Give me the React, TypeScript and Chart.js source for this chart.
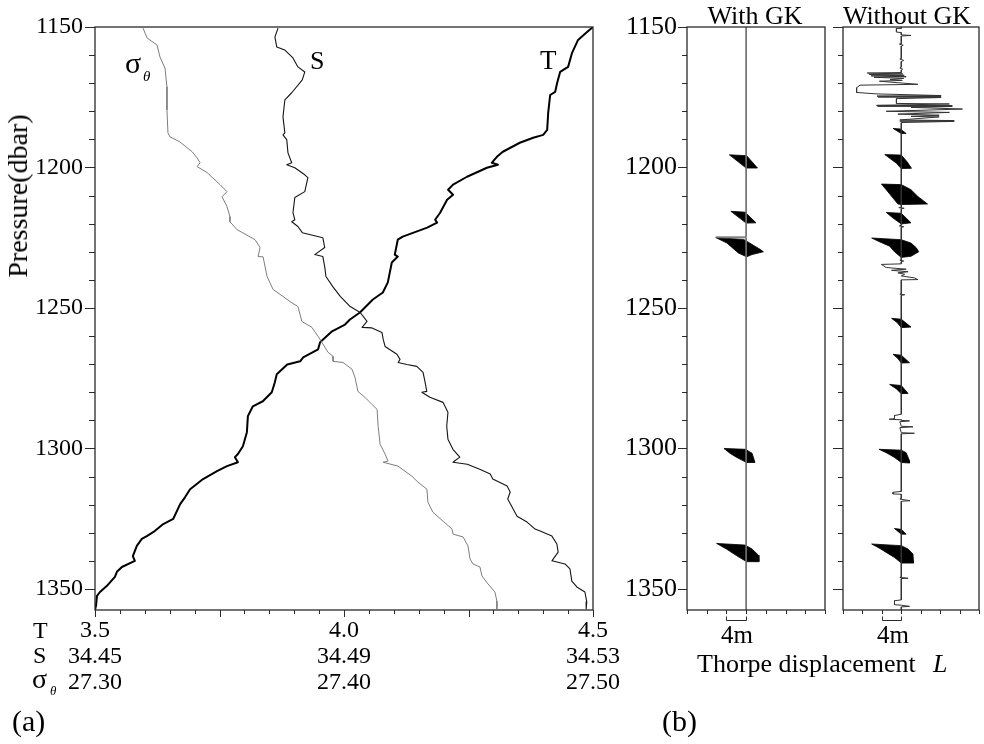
import React, { useEffect, useRef } from 'react';
import { Chart, registerables } from 'chart.js';

Chart.register(...registerables);

const FONT = "'Liberation Serif', 'Times New Roman', Times, serif";

// ---------- Panel (a): profiles, [pressure (dbar), value] ----------
const T_PROFILE: number[][] = [
  [1150.0, 4.500], [1151.8, 4.488], [1154.6, 4.470], [1159.2, 4.458], [1164.2, 4.450], [1166.0, 4.434],
  [1169.9, 4.428], [1173.1, 4.424], [1174.2, 4.414], [1180.6, 4.410], [1186.6, 4.408], [1188.4, 4.400],
  [1189.4, 4.380], [1191.2, 4.353], [1194.4, 4.319], [1196.2, 4.307], [1198.3, 4.297], [1199.0, 4.309],
  [1200.1, 4.287], [1203.3, 4.247], [1206.1, 4.219], [1207.9, 4.209], [1209.7, 4.219], [1211.5, 4.207],
  [1216.1, 4.193], [1218.6, 4.183], [1219.6, 4.187], [1221.4, 4.167], [1224.6, 4.118], [1225.7, 4.108],
  [1231.0, 4.102], [1231.7, 4.108], [1233.8, 4.096], [1240.9, 4.088], [1244.5, 4.078], [1247.0, 4.058],
  [1251.6, 4.032], [1254.1, 4.012], [1255.9, 4.002], [1258.3, 3.976], [1262.2, 3.952], [1264.7, 3.948],
  [1267.6, 3.918], [1269.0, 3.912], [1270.1, 3.886], [1273.6, 3.865], [1276.5, 3.861], [1280.0, 3.855],
  [1283.2, 3.837], [1285.0, 3.817], [1288.5, 3.807], [1294.2, 3.805], [1299.2, 3.797], [1302.0, 3.787],
  [1303.1, 3.781], [1304.9, 3.787], [1306.3, 3.765], [1308.1, 3.745], [1310.9, 3.717], [1314.5, 3.691],
  [1317.3, 3.681], [1319.8, 3.671], [1325.1, 3.657], [1326.9, 3.637], [1329.4, 3.620], [1331.2, 3.604],
  [1332.2, 3.594], [1334.7, 3.584], [1338.3, 3.576], [1340.0, 3.580], [1342.2, 3.554], [1343.9, 3.544],
  [1345.7, 3.540], [1348.9, 3.524], [1351.1, 3.510], [1352.5, 3.504], [1356.0, 3.502], [1357.5, 3.500],
];

const S_PROFILE: number[][] = [
  [1150.4, 34.4794], [1153.6, 34.4789], [1157.1, 34.4792], [1158.2, 34.4805], [1161.0, 34.4818],
  [1164.2, 34.4826], [1166.0, 34.4837], [1168.8, 34.4833], [1173.4, 34.4816], [1175.9, 34.4805],
  [1182.0, 34.4802], [1187.7, 34.4805], [1188.4, 34.4802], [1190.1, 34.4808], [1194.8, 34.4810],
  [1198.3, 34.4816], [1199.0, 34.4808], [1200.1, 34.4821], [1202.6, 34.4837], [1203.6, 34.4842],
  [1208.6, 34.4837], [1210.7, 34.4821], [1216.1, 34.4818], [1218.6, 34.4821], [1219.3, 34.4816],
  [1221.0, 34.4826], [1223.2, 34.4833], [1225.0, 34.4866], [1228.5, 34.4869], [1231.0, 34.4853],
  [1231.7, 34.4866], [1235.3, 34.4869], [1238.8, 34.4871], [1242.4, 34.4882], [1245.9, 34.4894],
  [1249.5, 34.4910], [1251.6, 34.4926], [1254.8, 34.4937], [1256.9, 34.4929], [1257.1, 34.4945],
  [1258.7, 34.4961], [1261.2, 34.4963], [1263.7, 34.4966], [1266.5, 34.4985], [1268.3, 34.4990],
  [1269.4, 34.4987], [1270.1, 34.5001], [1270.8, 34.5017], [1272.9, 34.5027], [1276.1, 34.5030],
  [1279.7, 34.5033], [1280.0, 34.5025], [1281.8, 34.5038], [1283.6, 34.5059], [1287.1, 34.5067],
  [1292.1, 34.5065], [1296.7, 34.5067], [1300.3, 34.5075], [1303.1, 34.5086], [1304.9, 34.5075],
  [1305.6, 34.5098], [1307.4, 34.5118], [1309.1, 34.5135], [1310.9, 34.5139], [1313.4, 34.5162],
  [1315.5, 34.5167], [1318.0, 34.5163], [1324.1, 34.5178], [1326.2, 34.5194], [1328.7, 34.5207],
  [1329.4, 34.5215], [1331.2, 34.5234], [1334.0, 34.5242], [1336.9, 34.5244], [1340.0, 34.5234],
  [1341.1, 34.5255], [1342.9, 34.5263], [1347.2, 34.5266], [1349.3, 34.5274], [1351.1, 34.5287],
  [1354.6, 34.5290], [1357.1, 34.5289],
];

const SIG_PROFILE: number[][] = [
  [1150.4, 27.3193], [1153.9, 27.3209], [1156.4, 27.3249], [1160.7, 27.3261], [1164.6, 27.3281],
  [1171.3, 27.3289], [1179.5, 27.3289], [1187.7, 27.3293], [1189.1, 27.3301], [1190.9, 27.3341],
  [1194.4, 27.3390], [1196.6, 27.3410], [1198.3, 27.3422], [1199.7, 27.3410], [1201.8, 27.3450],
  [1206.1, 27.3502], [1208.6, 27.3530], [1210.4, 27.3510], [1213.9, 27.3530], [1217.5, 27.3542],
  [1219.3, 27.3542], [1222.1, 27.3570], [1225.7, 27.3643], [1228.5, 27.3663], [1231.7, 27.3655],
  [1231.8, 27.3675], [1238.8, 27.3691], [1243.4, 27.3715], [1245.9, 27.3755], [1247.7, 27.3783],
  [1249.5, 27.3815], [1254.8, 27.3831], [1256.9, 27.3871], [1261.2, 27.3904], [1265.8, 27.3936],
  [1267.2, 27.3956], [1269.0, 27.3956], [1269.4, 27.3996], [1271.8, 27.4032], [1274.7, 27.4044],
  [1279.7, 27.4056], [1281.8, 27.4084], [1284.3, 27.4112], [1286.1, 27.4133], [1292.1, 27.4137],
  [1298.5, 27.4145], [1302.0, 27.4165], [1304.5, 27.4177], [1304.9, 27.4157], [1306.3, 27.4217],
  [1309.9, 27.4273], [1312.0, 27.4297], [1314.5, 27.4333], [1319.1, 27.4337], [1322.7, 27.4357],
  [1325.9, 27.4398], [1328.7, 27.4434], [1330.5, 27.4438], [1331.5, 27.4478], [1334.7, 27.4498],
  [1339.3, 27.4506], [1341.1, 27.4518], [1342.2, 27.4546], [1345.4, 27.4554], [1348.2, 27.4578],
  [1351.1, 27.4606], [1354.3, 27.4614], [1357.1, 27.4614],
];

const T_TICK_VALUES = [3.5, 4.0, 4.5];
const T_TICK_LABELS = ['3.5', '4.0', '4.5'];
const S_TICK_LABELS = ['34.45', '34.49', '34.53'];
const SIG_TICK_LABELS = ['27.30', '27.40', '27.50'];
const T_RANGE = [3.5, 4.5];
const S_RANGE = [34.45, 34.53];
const SIG_RANGE = [27.3, 27.5];
const P_TICKS = [1150, 1200, 1250, 1300, 1350];
const P_RANGE = [1150, 1357.5];

// ---------- Panel (b): Thorpe displacement, [L (m), pressure (dbar)] ----------
const L_RANGE = [-12, 16];
const SCALE_BAR = [-4, 0];

const GK_PATH: number[][] = [
  [0, 1150], [0, 1224.7], [-6.1, 1224.7], [-6.1, 1225.0], [0, 1225.0], [0, 1357.5],
];
const GK_OVERTURNS: number[][][] = [
  [[-3.4, 1195.5], [0.1, 1195.8], [2.3, 1200.2], [0, 1200.2]],
  [[-3.1, 1215.6], [-0.2, 1215.9], [2.0, 1219.7], [0, 1219.8]],
  [[-6.1, 1225.0], [-0.5, 1225.6], [2.9, 1229.2], [3.5, 1230.0], [1.2, 1231.0], [0.1, 1231.8], [-1.6, 1230.4], [-3.9, 1226.9]],
  [[-4.5, 1300.0], [-0.2, 1300.3], [1.2, 1301.7], [1.8, 1305.0], [0.1, 1305.0], [-1.9, 1303.2], [-3.3, 1301.7]],
  [[-6.0, 1333.8], [-0.2, 1334.4], [1.2, 1335.8], [2.5, 1338.0], [2.6, 1340.3], [0.1, 1340.3], [-1.9, 1338.2], [-4.0, 1335.8]],
];

const NOGK_PATH: number[][] = [
  [0, 1150.0], [0, 1150.5], [-1.0, 1150.5], [-1.0, 1151.8], [0, 1152.0], [0, 1152.8], [2.0, 1153.0], [0, 1153.2],
  [0, 1155.9], [-0.4, 1156.1], [0.4, 1156.5], [0, 1156.8],
  [0, 1161.2], [-0.3, 1161.4], [0.5, 1161.9], [0, 1162.3],
  [0, 1164.3], [-0.3, 1164.6], [0.3, 1165.0], [0, 1165.3],
  [0, 1166.2], [-7.0, 1166.4], [0.3, 1166.7], [-6.6, 1166.9], [0.6, 1167.2], [-6.2, 1167.4], [1.0, 1167.7],
  [-5.6, 1167.9], [0.5, 1168.3], [-2.3, 1168.7], [0.2, 1169.0], [-4.5, 1169.3], [3.4, 1170.4], [-8.5, 1170.7],
  [-9.2, 1171.6], [-9.2, 1173.3], [-5.2, 1173.8], [8.2, 1174.4], [-5.0, 1174.6], [8.2, 1174.8], [-4.8, 1174.9],
  [8.2, 1175.1], [-1.0, 1175.5], [-1.0, 1177.2], [9.9, 1177.4], [-5.1, 1177.9], [10.5, 1178.0], [-4.9, 1178.2],
  [10.5, 1178.3], [2.0, 1178.6], [12.6, 1179.2], [-3.1, 1180.0], [9.9, 1180.4], [-0.7, 1181.0], [7.8, 1181.4],
  [2.0, 1181.8], [7.8, 1182.0], [-0.3, 1183.1], [10.9, 1183.3], [-0.3, 1183.5], [10.9, 1183.6], [0, 1184.0],
  [0, 1214.2], [-0.5, 1214.3], [0.6, 1214.5], [0, 1214.7],
  [0, 1220.6], [-0.4, 1220.8], [0.5, 1221.1], [0, 1221.3],
  [0, 1232.8], [-0.3, 1233.0], [0.5, 1233.3], [0, 1233.5],
  [0, 1234.3], [-4.1, 1234.5], [-3.1, 1235.6], [1.0, 1236.2], [-2.0, 1236.6], [1.4, 1237.1], [-0.7, 1237.5],
  [0.7, 1238.0], [0, 1238.6], [2.7, 1239.3], [3.4, 1239.9], [0, 1240.0],
  [0, 1244.9], [-0.3, 1245.1], [0.7, 1245.3], [0, 1245.5],
  [0, 1287.8], [-1.4, 1288.3], [-1.4, 1289.4], [-2.5, 1289.6], [0, 1289.8], [0, 1290.0], [1.7, 1290.2],
  [-0.3, 1290.5], [0, 1292.1], [2.4, 1292.3], [-0.3, 1292.6], [0, 1294.4], [2.7, 1294.6], [0, 1294.8],
  [0, 1315.3], [-1.7, 1315.6], [-1.7, 1316.2], [0, 1316.3], [0, 1317.8], [-0.3, 1318.0], [1.8, 1318.6], [0, 1318.8],
  [0, 1345.7], [-0.3, 1345.9], [1.4, 1346.2], [0, 1346.3],
  [0, 1353.9], [-1.4, 1354.2], [-1.4, 1355.6], [0, 1355.8], [1.7, 1356.2], [0, 1356.4], [0, 1357.5],
];
const NOGK_OVERTURNS: number[][][] = [
  [[-1.7, 1186.1], [-0.2, 1186.3], [1.0, 1187.9], [0, 1187.9]],
  [[-3.4, 1195.4], [0, 1195.6], [1.2, 1198.0], [2.1, 1200.3], [0, 1200.4], [-1.0, 1198.5]],
  [[-4.1, 1205.9], [0, 1206.1], [2.0, 1207.9], [3.4, 1210.3], [5.4, 1213.0], [0, 1213.2], [-0.7, 1213.0], [-1.7, 1210.9], [-3.1, 1207.9]],
  [[-3.1, 1216.0], [0, 1216.3], [2.0, 1219.7], [0, 1220.1], [-1.7, 1218.0]],
  [[-6.1, 1225.1], [0, 1225.7], [2.0, 1226.9], [3.1, 1228.6], [3.6, 1230.0], [2.0, 1231.6], [0, 1232.0], [-1.4, 1230.0], [-2.4, 1228.0], [-4.4, 1226.5]],
  [[-2.0, 1253.7], [0, 1254.0], [2.0, 1256.8], [0, 1257.0], [-0.8, 1255.3]],
  [[-1.7, 1266.5], [0, 1266.8], [1.7, 1269.5], [0, 1269.6], [-0.7, 1268.0]],
  [[-2.4, 1277.2], [0, 1277.6], [1.4, 1280.4], [0, 1280.5], [-1.0, 1278.8]],
  [[-4.6, 1300.3], [0, 1300.6], [1.0, 1301.5], [1.7, 1304.4], [1.7, 1305.2], [0, 1305.0], [-1.4, 1303.2], [-3.1, 1301.5]],
  [[-1.4, 1328.5], [0, 1328.8], [1.0, 1330.5], [0, 1330.5]],
  [[-6.1, 1334.0], [0, 1334.6], [1.4, 1335.8], [2.4, 1337.6], [2.5, 1339.9], [2.5, 1340.8], [0, 1340.8], [-1.4, 1338.8], [-3.1, 1337.0], [-4.4, 1335.6]],
];

// ---------- helpers ----------
const framePlugin = {
  id: 'frameTicks',
  afterDatasetsDraw(chart: any, _args: any, o: any) {
    const { ctx, chartArea: a } = chart;
    const xs = chart.scales.x;
    const ys = chart.scales.y;
    ctx.save();
    ctx.strokeStyle = '#2a2a2a';
    ctx.lineWidth = 1.3;
    ctx.strokeRect(a.left, a.top, a.right - a.left, a.bottom - a.top);
    ctx.lineWidth = 1;
    ctx.beginPath();
    const ny = Math.round((o.yMax - o.yMin) / o.yStep);
    for (let i = 0; i <= ny; i++) {
      const v = o.yMin + i * o.yStep;
      const major = Math.abs(v / o.yMajorStep - Math.round(v / o.yMajorStep)) < 1e-6;
      const y = Math.round(ys.getPixelForValue(v)) + 0.5;
      ctx.moveTo(a.left - (major ? o.yMajorLen : o.yMinorLen), y);
      ctx.lineTo(a.left, y);
    }
    const nx = Math.round((o.xMax - o.xMin) / o.xStep);
    for (let i = 0; i <= nx; i++) {
      const v = o.xMin + i * o.xStep;
      const k = (v - o.xMin) / o.xMajorStep;
      const major = Math.abs(k - Math.round(k)) < 1e-6;
      const x = Math.round(xs.getPixelForValue(v)) + 0.5;
      ctx.moveTo(x, a.bottom);
      ctx.lineTo(x, a.bottom + (major ? o.xMajorLen : o.xMinorLen));
    }
    ctx.stroke();
    if (o.scaleBar) {
      const x0 = Math.round(xs.getPixelForValue(o.scaleBar[0])) + 0.5;
      const x1 = Math.round(xs.getPixelForValue(o.scaleBar[1])) + 0.5;
      const yb = a.bottom + 10.5;
      ctx.beginPath();
      ctx.moveTo(x0, yb - 4);
      ctx.lineTo(x0, yb);
      ctx.lineTo(x1, yb);
      ctx.lineTo(x1, yb - 4);
      ctx.stroke();
    }
    ctx.restore();
  },
};

const lineDs = (pts: { x: number; y: number }[], color: string, width: number, axis = 'x') => ({
  data: pts,
  xAxisID: axis,
  borderColor: color,
  backgroundColor: color,
  borderWidth: width,
  pointRadius: 0,
  tension: 0,
  fill: false,
  borderJoinStyle: 'round',
});

const polyDs = (poly: number[][]) => ({
  data: [...poly, poly[0]].map(([d, p]) => ({ x: d, y: p })),
  borderColor: '#000',
  backgroundColor: '#000',
  borderWidth: 0.8,
  pointRadius: 0,
  tension: 0,
  fill: 'shape',
});

const yAxis = (width: number, pad: number, size: number, show: boolean) => ({
  type: 'linear',
  reverse: true,
  min: P_RANGE[0],
  max: P_RANGE[1],
  display: show,
  grid: { display: false, drawTicks: false },
  border: { display: false },
  afterBuildTicks: (s: any) => {
    s.ticks = P_TICKS.map((v) => ({ value: v }));
  },
  afterFit: (s: any) => {
    s.width = show ? width : 0;
  },
  ticks: { padding: pad, color: '#000', font: { family: FONT, size }, callback: (v: any) => String(v) },
});

function configA() {
  return {
    type: 'line',
    data: {
      datasets: [
        lineDs(SIG_PROFILE.map(([p, v]) => ({ x: v, y: p })), '#7d7d7d', 1, 'xSig'),
        lineDs(S_PROFILE.map(([p, v]) => ({ x: v, y: p })), '#151515', 1.1, 'xS'),
        lineDs(T_PROFILE.map(([p, v]) => ({ x: v, y: p })), '#000', 2, 'x'),
      ],
    },
    options: {
      responsive: false,
      animation: false,
      devicePixelRatio: 1,
      events: [],
      layout: { padding: { left: 0, top: 27, right: 47, bottom: 0 } },
      plugins: {
        legend: { display: false },
        tooltip: { enabled: false },
        frameTicks: {
          yMin: 1150, yMax: 1350, yStep: 10, yMajorStep: 50, yMajorLen: 10, yMinorLen: 6,
          xMin: T_RANGE[0], xMax: T_RANGE[1], xStep: 0.05, xMajorStep: 0.25, xMajorLen: 7, xMinorLen: 4,
        },
      },
      scales: {
        x: {
          type: 'linear',
          position: 'bottom',
          min: T_RANGE[0],
          max: T_RANGE[1],
          grid: { display: false, drawTicks: false },
          border: { display: false },
          afterBuildTicks: (s: any) => {
            s.ticks = T_TICK_VALUES.map((v) => ({ value: v }));
          },
          afterFit: (s: any) => {
            s.height = 91;
          },
          ticks: {
            autoSkip: false,
            maxRotation: 0,
            padding: 8,
            color: '#000',
            font: { family: FONT, size: 24, lineHeight: 1.08 },
            callback: (_v: any, i: number) => [T_TICK_LABELS[i], S_TICK_LABELS[i], SIG_TICK_LABELS[i]],
          },
        },
        xS: { type: 'linear', position: 'bottom', display: false, min: S_RANGE[0], max: S_RANGE[1] },
        xSig: { type: 'linear', position: 'bottom', display: false, min: SIG_RANGE[0], max: SIG_RANGE[1] },
        y: yAxis(95, 12, 24, true),
      },
    },
    plugins: [framePlugin],
  };
}

function configB(path: number[][], overturns: number[][][], showLabels: boolean, padLeft: number, padRight: number, yMajorLen: number, yMinorLen: number, pathColor: string) {
  return {
    type: 'line',
    data: {
      datasets: [
        lineDs(path.map(([d, p]) => ({ x: d, y: p })), pathColor, 1, 'x'),
        ...overturns.map(polyDs),
      ],
    },
    options: {
      responsive: false,
      animation: false,
      devicePixelRatio: 1,
      events: [],
      layout: { padding: { left: padLeft, top: 27, right: padRight, bottom: 91 } },
      plugins: {
        legend: { display: false },
        tooltip: { enabled: false },
        frameTicks: {
          yMin: 1150, yMax: 1350, yStep: 10, yMajorStep: 50, yMajorLen, yMinorLen,
          xMin: L_RANGE[0], xMax: L_RANGE[1], xStep: 4, xMajorStep: 4, xMajorLen: 4, xMinorLen: 4,
          scaleBar: SCALE_BAR,
        },
      },
      scales: {
        x: { type: 'linear', display: false, min: L_RANGE[0], max: L_RANGE[1] },
        y: yAxis(87, 10, 26, showLabels),
      },
    },
    plugins: [framePlugin],
  };
}

function ChartBox({ left, width, height, make }: { left: number; width: number; height: number; make: () => any }) {
  const ref = useRef<HTMLCanvasElement>(null);
  useEffect(() => {
    const chart = new Chart(ref.current as HTMLCanvasElement, make());
    return () => chart.destroy();
  }, []);
  return (
    <canvas
      ref={ref}
      width={width}
      height={height}
      style={{ position: 'absolute', left, top: 0, width, height }}
    />
  );
}

function Txt({ x, base, size, center = false, italic = false, children }: any) {
  return (
    <div
      style={{
        position: 'absolute',
        left: x,
        top: base - 0.8375 * size,
        fontFamily: FONT,
        fontSize: size,
        lineHeight: 1,
        fontStyle: italic ? 'italic' : 'normal',
        whiteSpace: 'nowrap',
        color: '#000',
        transform: center ? 'translateX(-50%)' : undefined,
      }}
    >
      {children}
    </div>
  );
}

export default function App() {
  return (
    <div style={{ position: 'absolute', left: 0, top: 0, width: 984, height: 744, background: '#fff', overflow: 'hidden' }}>
      <ChartBox left={0} width={640} height={701} make={configA} />
      <ChartBox left={600} width={235} height={701} make={() => configB(GK_PATH, GK_OVERTURNS, true, 0, 10, 9, 5, '#707070')} />
      <ChartBox left={820} width={164} height={701} make={() => configB(NOGK_PATH, NOGK_OVERTURNS, false, 23, 5, 10, 5, '#333333')} />

      <div
        style={{
          position: 'absolute', left: 17.5, top: 196, fontFamily: FONT, fontSize: 28, lineHeight: 1,
          whiteSpace: 'nowrap', color: '#000', transform: 'translate(-50%, -50%) rotate(-90deg)',
        }}
      >
        Pressure(dbar)
      </div>

      <Txt x={125} base={73} size={30}>σ</Txt>
      <Txt x={143} base={82} size={15} italic>θ</Txt>
      <Txt x={310} base={70} size={26}>S</Txt>
      <Txt x={540} base={70} size={27}>T</Txt>

      <Txt x={33} base={638} size={24}>T</Txt>
      <Txt x={33} base={663} size={24}>S</Txt>
      <Txt x={32} base={688} size={28}>σ</Txt>
      <Txt x={50} base={695} size={13} italic>θ</Txt>

      <Txt x={12} base={731} size={30}>(a)</Txt>
      <Txt x={662} base={731} size={30}>(b)</Txt>

      <Txt x={755} base={25} size={26} center>With GK</Txt>
      <Txt x={907} base={25} size={26} center>Without GK</Txt>
      <Txt x={737} base={643} size={25} center>4m</Txt>
      <Txt x={893} base={643} size={25} center>4m</Txt>
      <Txt x={697} base={673} size={26}>Thorpe displacement</Txt>
      <Txt x={933} base={673} size={26} italic>L</Txt>
    </div>
  );
}
